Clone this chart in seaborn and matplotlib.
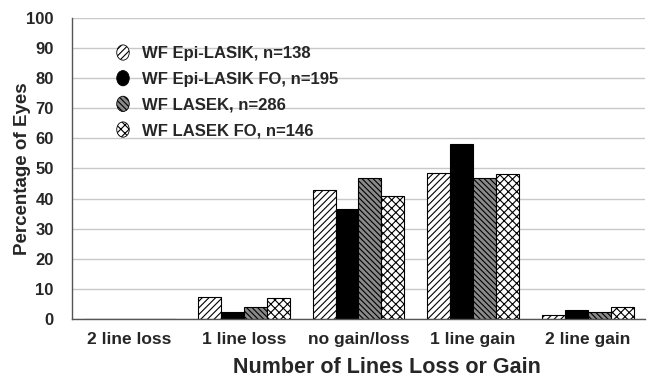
import matplotlib
matplotlib.use("Agg")
import matplotlib.pyplot as plt
import seaborn as sns
import pandas as pd
import numpy as np
from matplotlib.patches import Ellipse, Patch
from matplotlib.legend_handler import HandlerPatch

categories = ["2 line loss", "1 line loss", "no gain/loss", "1 line gain", "2 line gain"]
series = ["WF Epi-LASIK, n=138", "WF Epi-LASIK FO, n=195", "WF LASEK, n=286", "WF LASEK FO, n=146"]
epi_lasik = [0, 7.5, 43, 48.5, 1.5]
epi_lasik_fo = [0, 2.5, 36.5, 58, 3]
lasek = [0, 4, 47, 47, 2.5]
lasek_fo = [0, 7, 41, 48, 4]
yticks = [0, 10, 20, 30, 40, 50, 60, 70, 80, 90, 100]

values = [epi_lasik, epi_lasik_fo, lasek, lasek_fo]
rows = []
for s, vals in zip(series, values):
    for c, v in zip(categories, vals):
        rows.append({"cat": c, "series": s, "val": v})
df = pd.DataFrame(rows)

sns.set_style("white")
plt.rcParams['font.family'] = ['Liberation Sans', 'DejaVu Sans']
plt.rcParams['hatch.linewidth'] = 0.8

fig = plt.figure(figsize=(6.53, 3.79), dpi=100)
ax = fig.add_axes([0.110, 0.158, 0.878, 0.795])

faces = ["white", "black", "#8a8a8a", "white"]
hatches = ["/////", None, "\\\\\\\\\\\\", "xxxx"]

sns.barplot(data=df, x="cat", y="val", hue="series", order=categories,
            hue_order=series, ax=ax, width=0.8, errorbar=None,
            palette=["white"] * 4, edgecolor="black", linewidth=0.8, legend=False)

ncat = len(categories)
for i, p in enumerate(ax.patches[:ncat * 4]):
    si = i // ncat
    p.set_facecolor(faces[si])
    p.set_edgecolor("black")
    if hatches[si]:
        p.set_hatch(hatches[si])

ax.set_ylim(0, 100)
ax.set_xlim(-0.5, ncat - 0.5)
ax.set_yticks(yticks)
ax.yaxis.grid(True, color="#c8c8c8", linewidth=1.0)
ax.set_axisbelow(True)
for sp in ["top", "right"]:
    ax.spines[sp].set_visible(False)
for sp in ["left", "bottom"]:
    ax.spines[sp].set_color("#555555")
    ax.spines[sp].set_linewidth(1.0)

ax.set_xticks(np.arange(ncat))
ax.set_xticklabels(categories, fontsize=12.5, fontweight="bold")
ax.set_xticks(np.arange(ncat + 1) - 0.5, minor=True)
ax.tick_params(axis="x", which="major", length=0, pad=9)
ax.tick_params(axis="x", which="minor", length=5, direction="out", color="#555555")
ax.tick_params(axis="y", length=0, labelsize=12, pad=13)
for t in ax.get_yticklabels():
    t.set_fontweight("bold")

ax.set_xlabel("Number of Lines Loss or Gain", fontsize=15.5, fontweight="bold")
ax.xaxis.set_label_coords(0.55, -0.125)
ax.set_ylabel("Percentage of Eyes", fontsize=13.5, fontweight="bold")
ax.yaxis.set_label_coords(-0.072, 0.5)

class HandlerEllipse(HandlerPatch):
    def create_artists(self, legend, orig_handle, xdescent, ydescent, width, height, fontsize, trans):
        center = 0.5 * width - 0.5 * xdescent, 0.5 * height - 0.5 * ydescent
        e = Ellipse(xy=center, width=9, height=11)
        self.update_prop(e, orig_handle, legend)
        e.set_transform(trans)
        return [e]

handles = []
for si in range(4):
    handles.append(Patch(facecolor=faces[si], edgecolor="black", hatch=hatches[si], linewidth=0.6))

leg = ax.legend(handles, series, loc="upper left", bbox_to_anchor=(0.05, 0.955),
                frameon=False, handler_map={Patch: HandlerEllipse()},
                prop={"weight": "bold", "size": 12}, handlelength=0.9,
                handletextpad=0.7, labelspacing=0.64)

fig.savefig("out.png", dpi=100)
